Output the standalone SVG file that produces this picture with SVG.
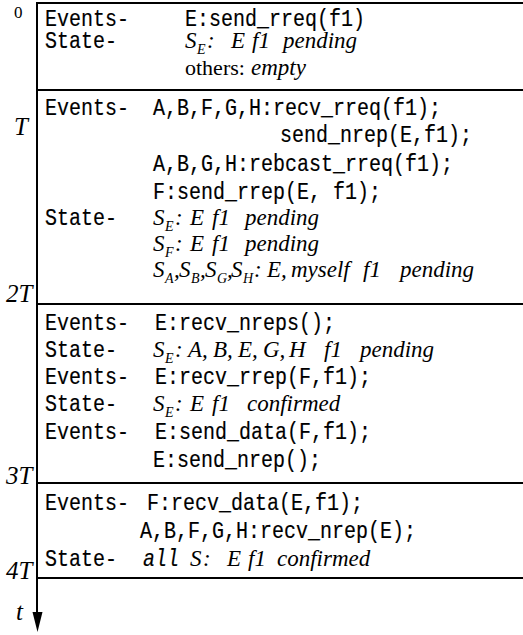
<svg xmlns="http://www.w3.org/2000/svg" width="523" height="635" viewBox="0 0 523 635">
  <style>
    .mono { font-family: "Liberation Mono", "DejaVu Sans Mono", monospace; font-size: 20px; fill: #000; stroke: #000; stroke-width: 0.15; }
    .monoi { font-style: italic; }
    .it { font-family: "Liberation Serif", "Times New Roman", serif; font-size: 23px; font-style: italic; fill: #000; }
    .rm { font-style: normal; font-size: 22px; }
    .sub { font-size: 14px; }
    .tick { font-family: "Liberation Serif", "Times New Roman", serif; font-size: 25px; font-style: italic; fill: #000; }
    .zero { font-family: "Liberation Serif", "Times New Roman", serif; font-size: 17px; fill: #000; }
    .rule { stroke: #000; stroke-width: 2; fill: none; }
  </style>

  <!-- time axis and period separators -->
  <g id="connectors">
    <line class="rule" x1="37" y1="3" x2="37" y2="612"/>
    <path d="M32.5,612 L42.5,612 L37.5,632 Z" fill="#000"/>
    <line class="rule" x1="36" y1="3" x2="523" y2="3"/>
    <line class="rule" x1="36" y1="90" x2="523" y2="90"/>
    <line class="rule" x1="36" y1="304" x2="523" y2="304"/>
    <line class="rule" x1="36" y1="483" x2="523" y2="483"/>
    <line class="rule" x1="36" y1="578" x2="523" y2="578"/>
  </g>

  <!-- time ticks -->
  <g id="ticks">
    <text class="zero" x="14" y="18">0</text>
    <text class="tick" x="14" y="135">T</text>
    <text class="tick" x="6" y="302">2T</text>
    <text class="tick" x="6" y="484">3T</text>
    <text class="tick" x="6" y="579">4T</text>
    <text class="tick" x="16" y="620">t</text>
  </g>

  <!-- period 0..T -->
  <g id="period0">
    <text class="mono" transform="translate(45,26) scale(1,1.2)">Events-</text>
    <text class="mono" transform="translate(185,26) scale(1,1.2)">E:send_rreq(f1)</text>
    <text class="mono" transform="translate(45,48) scale(1,1.2)">State-</text>
    <text class="it" y="48"><tspan x="185">S</tspan><tspan class="sub" x="197" dy="6">E</tspan><tspan x="207" dy="-6">:</tspan><tspan x="231">E</tspan><tspan x="252">f1</tspan><tspan x="283">pending</tspan></text>
    <text class="it" y="75"><tspan class="rm" x="185">others:</tspan><tspan x="251">empty</tspan></text>
  </g>

  <!-- period T..2T -->
  <g id="period1">
    <text class="mono" transform="translate(45,115) scale(1,1.2)">Events-</text>
    <text class="mono" transform="translate(153,115) scale(1,1.2)">A,B,F,G,H:recv_rreq(f1);</text>
    <text class="mono" transform="translate(280,142) scale(1,1.2)">send_nrep(E,f1);</text>
    <text class="mono" transform="translate(153,171) scale(1,1.2)">A,B,G,H:rebcast_rreq(f1);</text>
    <text class="mono" transform="translate(153,199) scale(1,1.2)">F:send_rrep(E, f1);</text>
    <text class="mono" transform="translate(45,225) scale(1,1.2)">State-</text>
    <text class="it" y="225"><tspan x="153">S</tspan><tspan class="sub" x="165" dy="6">E</tspan><tspan x="175" dy="-6">:</tspan><tspan x="190">E</tspan><tspan x="212">f1</tspan><tspan x="245">pending</tspan></text>
    <text class="it" y="251"><tspan x="153">S</tspan><tspan class="sub" x="165" dy="6">F</tspan><tspan x="175" dy="-6">:</tspan><tspan x="190">E</tspan><tspan x="212">f1</tspan><tspan x="245">pending</tspan></text>
    <text class="it" y="277"><tspan x="153">S</tspan><tspan class="sub" x="165" dy="6">A</tspan><tspan x="174" dy="-6">,</tspan><tspan x="179">S</tspan><tspan class="sub" x="191" dy="6">B</tspan><tspan x="200" dy="-6">,</tspan><tspan x="205">S</tspan><tspan class="sub" x="217" dy="6">G</tspan><tspan x="227" dy="-6">,</tspan><tspan x="231">S</tspan><tspan class="sub" x="243" dy="6">H</tspan><tspan x="254" dy="-6">:</tspan><tspan x="267">E,</tspan><tspan x="291">myself</tspan><tspan x="363">f1</tspan><tspan x="400">pending</tspan></text>
  </g>

  <!-- period 2T..3T -->
  <g id="period2">
    <text class="mono" transform="translate(45,330) scale(1,1.2)">Events-</text>
    <text class="mono" transform="translate(155,330) scale(1,1.2)">E:recv_nreps();</text>
    <text class="mono" transform="translate(45,357) scale(1,1.2)">State-</text>
    <text class="it" y="357"><tspan x="153">S</tspan><tspan class="sub" x="165" dy="6">E</tspan><tspan x="175" dy="-6">:</tspan><tspan x="188">A,</tspan><tspan x="213">B,</tspan><tspan x="238">E,</tspan><tspan x="263">G,</tspan><tspan x="289">H</tspan><tspan x="324">f1</tspan><tspan x="360">pending</tspan></text>
    <text class="mono" transform="translate(45,384) scale(1,1.2)">Events-</text>
    <text class="mono" transform="translate(155,384) scale(1,1.2)">E:recv_rrep(F,f1);</text>
    <text class="mono" transform="translate(45,411) scale(1,1.2)">State-</text>
    <text class="it" y="411"><tspan x="153">S</tspan><tspan class="sub" x="165" dy="6">E</tspan><tspan x="175" dy="-6">:</tspan><tspan x="190">E</tspan><tspan x="212">f1</tspan><tspan x="247">confirmed</tspan></text>
    <text class="mono" transform="translate(45,439) scale(1,1.2)">Events-</text>
    <text class="mono" transform="translate(155,439) scale(1,1.2)">E:send_data(F,f1);</text>
    <text class="mono" transform="translate(153,467) scale(1,1.2)">E:send_nrep();</text>
  </g>

  <!-- period 3T..4T -->
  <g id="period3">
    <text class="mono" transform="translate(45,510) scale(1,1.2)">Events-</text>
    <text class="mono" transform="translate(147,510) scale(1,1.2)">F:recv_data(E,f1);</text>
    <text class="mono" transform="translate(140,538) scale(1,1.2)">A,B,F,G,H:recv_nrep(E);</text>
    <text class="mono" transform="translate(45,566) scale(1,1.2)">State-</text>
    <text class="mono monoi" transform="translate(143,566) scale(1,1.2)">all</text>
    <text class="it" y="566"><tspan x="190">S</tspan><tspan x="203">:</tspan><tspan x="227">E</tspan><tspan x="248">f1</tspan><tspan x="277">confirmed</tspan></text>
  </g>
</svg>
